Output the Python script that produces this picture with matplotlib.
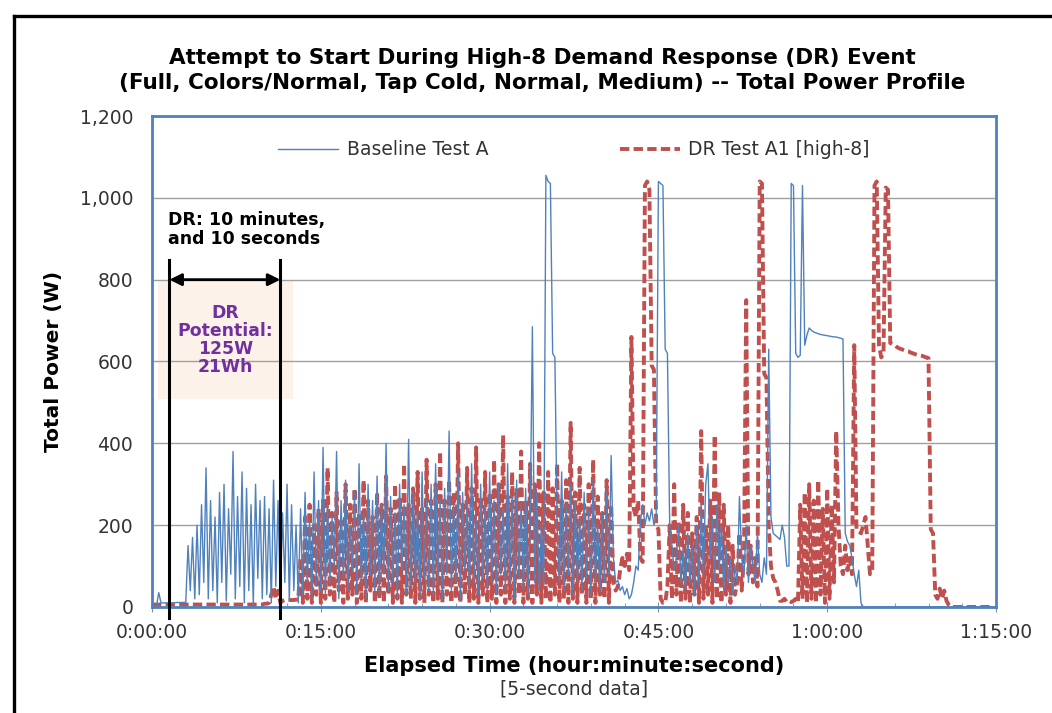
import matplotlib
matplotlib.use("Agg")
import matplotlib.pyplot as plt
from matplotlib.ticker import FuncFormatter, MultipleLocator
from matplotlib.patches import Rectangle
from matplotlib.lines import Line2D
import numpy as np

# --- DATA (one reading every 12 s; each row = 5 minutes) ---
STEP_MIN = 0.2

baseline_w = [
    0, 0, 2, 35, 10, 10, 10, 10, 10, 10, 10, 11, 11, 11, 11, 12, 150, 40, 170, 20, 200, 30, 250, 60, 340,
    20, 260, 40, 220, 10, 280, 60, 300, 15, 240, 80, 380, 20, 270, 50, 330, 10, 290, 40, 250, 5, 300, 70, 260, 20,
    270, 30, 240, 10, 310, 50, 260, 20, 230, 60, 300, 15, 250, 40, 200, 10, 240, 30, 280, 60, 210, 20, 330, 50, 260,
    40, 390, 30, 250, 60, 220, 100, 380, 20, 260, 70, 310, 40, 200, 90, 280, 30, 350, 60, 230, 20, 300, 80, 260, 40,
    320, 30, 250, 80, 400, 40, 270, 60, 230, 20, 300, 90, 250, 30, 410, 50, 280, 60, 240, 20, 330, 70, 260, 40, 300,
    30, 350, 60, 260, 20, 290, 80, 430, 40, 250, 60, 330, 20, 280, 90, 260, 40, 350, 60, 220, 30, 300, 70, 250, 40,
    330, 60, 260, 30, 300, 80, 240, 40, 350, 60, 270, 20, 310, 70, 250, 40, 290, 30, 200, 685, 60, 280, 40, 200, 50,
    1055, 1040, 1035, 620, 610, 200, 60, 330, 40, 250, 80, 300, 30, 260, 60, 220, 40, 280, 70, 240, 30, 310, 60, 200, 40,
    230, 60, 280, 80, 370, 120, 60, 65, 40, 50, 30, 45, 20, 30, 60, 100, 90, 210, 250, 200, 230, 210, 240, 200, 220,
    1040, 1035, 1030, 630, 620, 200, 150, 90, 120, 200, 60, 140, 40, 180, 60, 150, 30, 200, 50, 250, 80, 300, 350, 120, 220,
    60, 250, 90, 200, 40, 150, 60, 120, 30, 100, 60, 270, 120, 80, 200, 60, 150, 100, 60, 180, 80, 60, 120, 80, 630,
    220, 180, 175, 170, 165, 200, 170, 100, 100, 1035, 1030, 620, 610, 615, 1030, 640, 665, 682, 676, 672, 670, 668, 666, 665, 664,
    663, 662, 661, 660, 660, 658, 657, 655, 180, 160, 150, 120, 80, 50, 90, 10, 0, 0, 0, 0, 0, 0, 0, 0, 0,
    0, 0, 0, 0, 0, 0, 0, 0, 0, 0, 0, 0, 0, 0, 0, 0, 0, 0, 0, 0, 0, 0, 0, 0, 0,
    0, 0, 0, 0, 0, 0, 0, 0, 0, 0, 0, 0, 0, 0, 0, 0, 0, 0, 0, 0, 0, 0, 0, 0, 0,
]

dr_w = [
    6, 6, 6, 6, 6, 6, 6, 6, 6, 6, 6, 6, 6, 6, 6, 6, 6, 6, 6, 6, 6, 6, 6, 6, 6,
    6, 6, 6, 6, 6, 6, 6, 6, 6, 6, 6, 6, 6, 6, 6, 6, 6, 6, 6, 6, 6, 6, 6, 6, 6,
    8, 8, 10, 30, 50, 20, 40, 10, 15, 17, 17, 17, 17, 17, 18, 18, 120, 10, 220, 20, 250, 10, 200, 30, 240,
    10, 260, 20, 340, 30, 230, 10, 280, 40, 210, 10, 300, 20, 250, 30, 290, 10, 230, 20, 310, 10, 260, 40, 220, 10,
    280, 20, 250, 10, 320, 30, 240, 10, 300, 20, 270, 10, 350, 30, 250, 20, 290, 10, 330, 20, 240, 10, 360, 30, 260,
    10, 300, 20, 380, 10, 260, 30, 310, 10, 280, 20, 400, 10, 250, 30, 340, 10, 290, 20, 390, 10, 270, 30, 330, 10,
    280, 20, 360, 10, 300, 30, 420, 10, 270, 20, 330, 10, 290, 30, 380, 10, 260, 20, 350, 10, 300, 30, 400, 10, 280,
    20, 330, 10, 290, 30, 350, 10, 260, 20, 310, 10, 450, 20, 280, 10, 340, 30, 250, 10, 300, 20, 360, 10, 270, 30,
    230, 20, 310, 10, 250, 60, 40, 50, 90, 120, 100, 130, 90, 660, 240, 220, 260, 120, 110, 1030, 1040, 1020, 590, 580, 200,
    190, 20, 10, 10, 50, 200, 20, 300, 30, 210, 10, 250, 20, 230, 10, 180, 30, 220, 10, 430, 20, 200, 30, 260, 10,
    420, 20, 280, 10, 250, 30, 200, 10, 150, 30, 60, 180, 40, 120, 750, 80, 150, 60, 120, 50, 1040, 1035, 570, 560, 200,
    100, 70, 60, 40, 15, 15, 20, 12, 15, 12, 15, 20, 10, 250, 20, 280, 10, 300, 20, 260, 10, 310, 30, 240, 10,
    290, 20, 250, 60, 430, 200, 100, 80, 150, 90, 120, 80, 640, 190, 185, 180, 200, 220, 150, 80, 90, 1030, 1040, 640, 610,
    620, 1025, 1020, 645, 642, 640, 635, 632, 630, 628, 626, 625, 622, 620, 618, 616, 615, 614, 612, 610, 608, 190, 180, 30, 20,
    45, 20, 40, 15, 5, 0, 0, 0, 0, 0, 0, 0, 0, 0, 0, 0, 0, 0, 0, 0, 0, 0, 0, 0, 0,
]

series_labels = ["Baseline Test A", "DR Test A1 [high-8]"]
dr_start_min, dr_end_min = 1.55, 11.4
dr_text = "DR: 10 minutes,\nand 10 seconds"
potential_text = "DR\nPotential:\n125W\n21Wh"

t_base = np.arange(len(baseline_w)) * STEP_MIN
t_dr = np.arange(len(dr_w)) * STEP_MIN

BLUE = "#4F81BD"
RED = "#C0504D"

fig = plt.figure(figsize=(10.52, 7.13), dpi=100)
ax = fig.add_axes([0.1445, 0.1487, 0.8023, 0.6886])

# light box behind the DR potential text
ax.add_patch(Rectangle((0.53, 508), 12.0, 289, facecolor="#FDF2E9",
                       edgecolor="none", zorder=0))

ax.plot(t_base, baseline_w, color=BLUE, lw=1.0, label=series_labels[0], zorder=3)
ax.plot(t_dr, dr_w, color=RED, lw=2.8, dashes=(2.4, 1.1), label=series_labels[1], zorder=2)

ax.set_xlim(0, 75)
ax.set_ylim(0, 1200)
ax.xaxis.set_major_locator(MultipleLocator(15))
ax.xaxis.set_minor_locator(MultipleLocator(3))
ax.yaxis.set_major_locator(MultipleLocator(200))
ax.xaxis.set_major_formatter(FuncFormatter(
    lambda v, p: f"{int(v // 60)}:{int(v % 60):02d}:00"))
ax.yaxis.set_major_formatter(FuncFormatter(lambda v, p: f"{v:,.0f}"))
ax.tick_params(axis="x", which="major", direction="inout", length=7, color="#8C8C8C",
               labelsize=13.5, labelcolor="#333333", pad=8)
ax.tick_params(axis="x", which="minor", direction="in", length=3, color="#8C8C8C")
ax.tick_params(axis="y", length=0, labelsize=13.5, labelcolor="#333333", pad=13.5)

ax.grid(axis="y", color="#A0A0A0", lw=1.0, zorder=1)
ax.set_axisbelow(True)
for s in ax.spines.values():
    s.set_color(BLUE)
    s.set_linewidth(2.0)

# DR window markers
for xm in (dr_start_min, dr_end_min):
    ax.plot([xm, xm], [-27, 848], color="black", lw=2.2, clip_on=False, zorder=5)
ax.annotate("", xy=(dr_start_min, 800), xytext=(dr_end_min, 800),
            arrowprops=dict(arrowstyle="<|-|>", color="black", lw=2.0,
                            mutation_scale=18, shrinkA=0, shrinkB=0),
            zorder=6)
ax.text(1.4, 968, dr_text, fontsize=12.5, fontweight="bold", ha="left", va="top",
        linespacing=1.1, zorder=6)
ax.text(6.5, 652, potential_text, fontsize=12.4, fontweight="bold", color="#7030A0",
        ha="center", va="center", linespacing=1.0, zorder=6)

leg = ax.legend(ncol=2, loc="upper center", bbox_to_anchor=(0.5, 0.985), frameon=False,
                fontsize=13.5, handlelength=3.2, handletextpad=0.45, columnspacing=7.0)
for txt in leg.get_texts():
    txt.set_color("#333333")

ax.set_ylabel("Total Power (W)", fontsize=14.5, fontweight="bold", labelpad=12)
ax.set_xlabel("Elapsed Time (hour:minute:second)", fontsize=15, fontweight="bold", labelpad=10)
fig.text(574, 713 - 689, "[5-second data]", transform=None, fontsize=13.5,
         ha="center", va="center", color="#333333")
fig.text(542, 713 - 58, "Attempt to Start During High-8 Demand Response (DR) Event",
         transform=None, fontsize=15.5, fontweight="bold", ha="center", va="center")
fig.text(542, 713 - 83, "(Full, Colors/Normal, Tap Cold, Normal, Medium) -- Total Power Profile",
         transform=None, fontsize=15.5, fontweight="bold", ha="center", va="center")

# outer frame (cropped on the right and bottom)
fig.add_artist(Line2D([14 / 1052, 14 / 1052], [0, 1 - 16 / 713], color="black", lw=2.4,
                      transform=fig.transFigure))
fig.add_artist(Line2D([14 / 1052, 1], [1 - 16 / 713, 1 - 16 / 713], color="black", lw=2.4,
                      transform=fig.transFigure))

fig.savefig("out.png", dpi=100)
